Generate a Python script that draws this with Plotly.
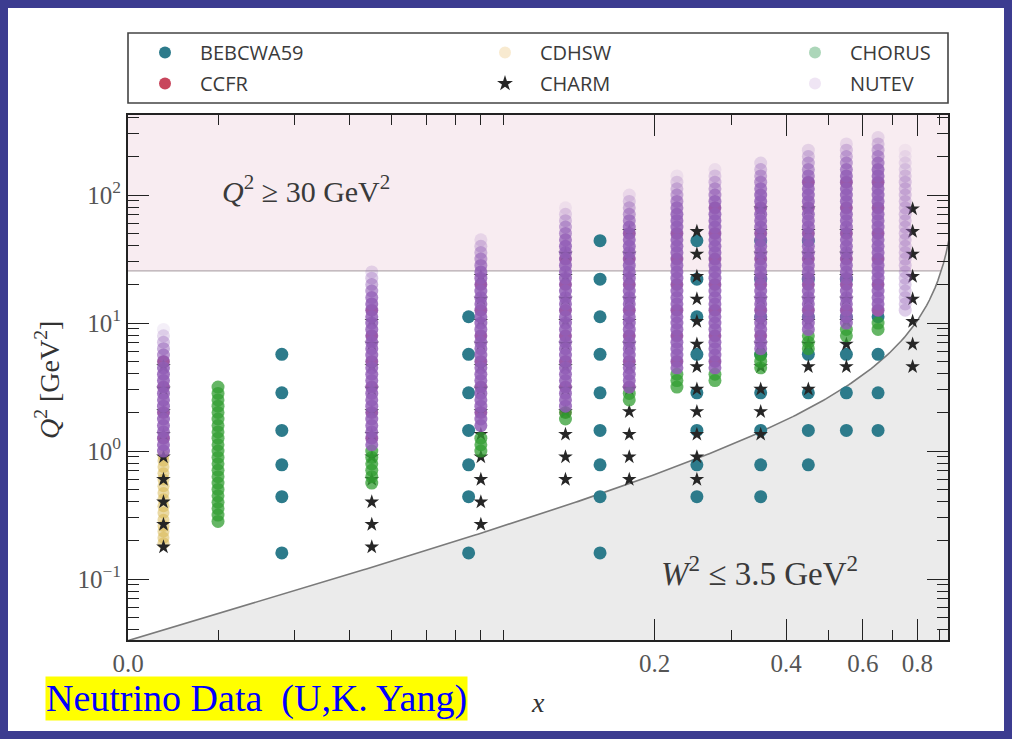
import numpy as np
import plotly.graph_objects as go

# ---------------------------------------------------------------------------
# Kinematic coverage of the neutrino DIS data sets (x, Q^2 in GeV^2)
# ---------------------------------------------------------------------------

# Q^2 levels populated by the dense data sets (CHORUS, NuTeV)
Q2_LEVELS = [0.178, 0.2, 0.224, 0.251, 0.282, 0.316, 0.355, 0.398, 0.447, 0.501,
             0.562, 0.631, 0.708, 0.794, 0.891, 1.0, 1.12, 1.26, 1.41, 1.58,
             1.78, 2.0, 2.24, 2.51, 2.82, 3.16, 3.55, 3.98, 4.47, 5.01,
             5.62, 6.31, 7.08, 7.94, 8.91, 10.0, 11.2, 12.6, 14.1, 15.8,
             17.8, 20.0, 22.4, 25.1, 28.2, 31.6, 35.5, 39.8, 44.7, 50.1,
             56.2, 63.1, 70.8, 79.4, 89.1, 100.0, 112.0, 126.0, 141.0, 158.0,
             178.0, 200.0, 224.0, 251.0, 282.0, 316.0]

BEBC_X = [0.028, 0.075, 0.15, 0.25, 0.35, 0.45, 0.55, 0.65]
BEBC_Q2 = [
    [0.16, 0.44, 0.78, 1.45, 2.85, 5.7],
    [0.16, 0.44, 0.78, 1.45, 2.85, 5.7, 11.2],
    [0.16, 0.44, 0.78, 1.45, 2.85, 5.7, 11.2, 22.0, 44.0],
    [0.44, 0.78, 1.45, 2.85, 5.7, 11.2, 22.0, 44.0],
    [0.44, 0.78, 1.45, 2.85, 5.7, 11.2, 22.0, 44.0],
    [0.78, 1.45, 2.85, 5.7, 11.2, 22.0, 44.0],
    [1.45, 2.85, 5.7, 11.2, 22.0],
    [1.45, 2.85, 5.7, 11.2],
]

CCFR_X = [0.015, 0.045, 0.08, 0.125, 0.175, 0.225, 0.275, 0.35, 0.45, 0.55, 0.65]
CCFR_Q2 = [
    [1.26, 2.0, 3.16, 5.01],
    [1.26, 2.0, 3.16, 5.01, 7.94, 12.6],
    [2.0, 3.16, 5.01, 7.94, 12.6, 20.0],
    [2.0, 3.16, 5.01, 7.94, 12.6, 20.0, 31.6],
    [3.16, 5.01, 7.94, 12.6, 20.0, 31.6, 50.1],
    [5.01, 7.94, 12.6, 20.0, 31.6, 50.1],
    [5.01, 7.94, 12.6, 20.0, 31.6, 50.1, 79.4],
    [7.94, 12.6, 20.0, 31.6, 50.1, 79.4],
    [12.6, 20.0, 31.6, 50.1, 79.4, 126.0],
    [12.6, 20.0, 31.6, 50.1, 79.4, 126.0],
    [12.6, 20.0, 31.6, 50.1, 79.4, 126.0],
]

CDHSW_X = [0.015]
CDHSW_Q2 = [
    [0.19, 0.21, 0.235, 0.26, 0.29, 0.33, 0.37, 0.42, 0.47, 0.53,
     0.6, 0.67, 0.75, 0.84, 0.92],
]

CHARM_X = [0.015, 0.045, 0.08, 0.125, 0.175, 0.25, 0.35, 0.45, 0.55, 0.78]
CHARM_Q2 = [
    [0.178, 0.267, 0.40, 0.60, 0.90, 1.35, 2.03, 3.04, 4.56],
    [0.178, 0.267, 0.40, 0.60, 0.90, 1.35, 2.03, 3.04, 4.56, 6.84, 10.3],
    [0.267, 0.40, 0.60, 0.90, 1.35, 2.03, 3.04, 4.56, 6.84, 10.3, 15.4, 23.1],
    [0.60, 0.90, 1.35, 2.03, 3.04, 4.56, 6.84, 10.3, 15.4, 23.1, 34.6],
    [0.60, 0.90, 1.35, 2.03, 3.04, 4.56, 6.84, 10.3, 15.4, 23.1, 34.6, 51.9],
    [0.60, 0.90, 1.35, 2.03, 3.04, 4.56, 6.84, 10.3, 15.4, 23.1, 34.6, 51.9],
    [1.35, 2.03, 3.04, 4.56, 6.84, 10.3, 15.4, 23.1, 34.6, 51.9, 77.9],
    [3.04, 4.56, 6.84, 10.3, 15.4, 23.1, 34.6, 51.9, 77.9],
    [4.56, 6.84, 10.3, 15.4, 23.1, 34.6, 51.9],
    [4.56, 6.84, 10.3, 15.4, 23.1, 34.6, 51.9, 77.9],
]

CHORUS_X = [0.02, 0.045, 0.08, 0.125, 0.175, 0.225, 0.275, 0.35, 0.45, 0.55, 0.65]
CHORUS_Q2_MIN = [0.28, 0.56, 1.0, 1.75, 2.4, 3.0, 3.5, 4.4, 6.3, 7.4, 8.5]
CHORUS_Q2_MAX = [3.3, 1.0, 1.4, 2.1, 3.0, 4.0, 4.3, 5.8, 8.0, 9.5, 10.5]

NUTEV_X = [0.015, 0.045, 0.08, 0.125, 0.175, 0.225, 0.275, 0.35, 0.45, 0.55, 0.65, 0.75]
NUTEV_Q2_MIN = [1.0, 1.1, 1.5, 2.2, 3.1, 4.2, 4.4, 6.2, 8.3, 10.0, 11.5, 12.2]
NUTEV_Q2_MAX = [9.0, 28.0, 48.0, 80.0, 105.0, 143.0, 162.0, 198.0, 245.0, 270.0, 305.0, 245.0]

# kinematic cuts
Q2_BAND_MIN = 25.6        # lower edge of the shaded high-Q^2 band
W2_CUT = 3.5              # GeV^2
PROTON_MASS2 = 0.88       # GeV^2

X_RANGE = (0.01244, 0.94)
Q2_RANGE = (0.0334, 422.0)

# ---------------------------------------------------------------------------
# Geometry helpers (pixel -> paper coordinates for decorations)
# ---------------------------------------------------------------------------
W, H = 1012, 739
ML, MR, MT, MB = 128, 64, 115, 99
PW, PH = W - ML - MR, H - MT - MB


def px(xp):
    return (xp - ML) / PW


def py(yp):
    return (H - MB - yp) / PH


def expand(xs, lists):
    xx, yy = [], []
    for x, qs in zip(xs, lists):
        xx += [x] * len(qs)
        yy += list(qs)
    return xx, yy


def from_levels(xs, lo, hi):
    cols = []
    for a, b in zip(lo, hi):
        cols.append([q for q in Q2_LEVELS if a <= q <= b])
    return expand(xs, cols), cols


SERIF = "Liberation Serif"
SANS = "Open Sans"

fig = go.Figure()

# shaded high-Q^2 band
fig.add_trace(go.Scatter(
    x=[X_RANGE[0] * 0.9, X_RANGE[1] * 1.05, X_RANGE[1] * 1.05, X_RANGE[0] * 0.9],
    y=[Q2_BAND_MIN, Q2_BAND_MIN, 5000, 5000],
    fill="toself", fillcolor="#f8ecf1", mode="lines",
    line=dict(color="#b4a9ae", width=1.2), hoverinfo="skip", showlegend=False))

# W^2 cut region
xc = np.geomspace(X_RANGE[0] * 0.95, X_RANGE[1] * 1.02, 300)
qc = (W2_CUT - PROTON_MASS2) * xc / (1 - xc)
fig.add_trace(go.Scatter(
    x=np.concatenate([xc, [xc[-1], xc[0]]]),
    y=np.concatenate([qc, [0.001, 0.001]]),
    fill="toself", fillcolor="#ebebeb", mode="lines",
    line=dict(color="rgba(0,0,0,0)", width=0), hoverinfo="skip", showlegend=False))
fig.add_trace(go.Scatter(x=xc, y=qc, mode="lines", line=dict(color="#7a7a7a", width=1.6),
                         hoverinfo="skip", showlegend=False))

# BEBC WA59
bx, by = expand(BEBC_X, BEBC_Q2)
fig.add_trace(go.Scatter(x=bx, y=by, mode="markers", showlegend=False,
                         marker=dict(size=13, color="#2d7b8b", line=dict(width=0))))

# CCFR
cx, cy = expand(CCFR_X, CCFR_Q2)
fig.add_trace(go.Scatter(x=cx, y=cy, mode="markers", showlegend=False,
                         marker=dict(size=12, color="#c8465c", line=dict(width=0))))

# CDHSW
dx, dy = expand(CDHSW_X, CDHSW_Q2)
fig.add_trace(go.Scatter(x=dx, y=dy, mode="markers", showlegend=False,
                         marker=dict(size=12, color="rgba(214,180,72,0.5)", line=dict(width=0))))

# CHARM
hx, hy = expand(CHARM_X, CHARM_Q2)
fig.add_trace(go.Scatter(x=hx, y=hy, mode="markers", showlegend=False,
                         marker=dict(size=11, symbol="star", color="#262626", line=dict(width=0))))

# CHORUS
(gx, gy), _ = from_levels(CHORUS_X, CHORUS_Q2_MIN, CHORUS_Q2_MAX)
fig.add_trace(go.Scatter(x=gx, y=gy, mode="markers", showlegend=False,
                         marker=dict(size=13, color="rgba(50,158,50,0.75)", line=dict(width=0))))

# NuTeV, fading towards the top of each x bin
(nx, ny), ncols = from_levels(NUTEV_X, NUTEV_Q2_MIN, NUTEV_Q2_MAX)
alphas = []
for x, top, col in zip(NUTEV_X, NUTEV_Q2_MAX, ncols):
    base = 0.85 if x < 0.7 else 0.3
    for q in col:
        d = np.log10(top) - np.log10(q)
        alphas.append(base * float(np.clip(0.1 + d / 0.32, 0.1, 1.0)))
fig.add_trace(go.Scatter(x=nx, y=ny, mode="markers", showlegend=False,
                         marker=dict(size=13, color="rgb(146,94,182)", opacity=alphas,
                                     line=dict(width=0))))

# legend entries: three columns of two rows
legend_items = [
    ("BEBCWA59", "legend", dict(symbol="circle", color="#2d7b8b")),
    ("CCFR", "legend", dict(symbol="circle", color="#c8465c")),
    ("CDHSW", "legend2", dict(symbol="circle", color="rgba(236,196,120,0.35)")),
    ("CHARM", "legend2", dict(symbol="star", color="#262626")),
    ("CHORUS", "legend3", dict(symbol="circle", color="rgba(70,165,100,0.45)")),
    ("NUTEV", "legend3", dict(symbol="circle", color="rgba(190,150,210,0.25)")),
]
for name, leg, mk in legend_items:
    fig.add_trace(go.Scatter(x=[None], y=[None], mode="markers", name=name, legend=leg,
                             legendgroup=name,
                             marker=dict(size=11, line=dict(width=0), **mk)))

# axes ticks
x_minor = [0.02, 0.03, 0.04, 0.05, 0.06, 0.07, 0.08, 0.09, 0.3, 0.5, 0.7, 0.9]
y_minor = [m * 10.0 ** e for e in range(-2, 3) for m in range(2, 10)
           if Q2_RANGE[0] < m * 10.0 ** e < Q2_RANGE[1]]

axis_common = dict(showline=True, linecolor="#222", linewidth=1.8, mirror="ticks",
                   ticks="inside", tickcolor="#222", tickwidth=1.4, ticklen=21,
                   showgrid=False, zeroline=False)

fig.update_xaxes(type="log", range=[np.log10(X_RANGE[0]), np.log10(X_RANGE[1])],
                 tickmode="array", tickvals=[0.012445, 0.2, 0.4, 0.6, 0.8],
                 ticktext=["0.0", "0.2", "0.4", "0.6", "0.8"],
                 tickfont=dict(family=SERIF, size=25, color="#555"),
                 minor=dict(tickmode="array", tickvals=x_minor, ticks="inside",
                            ticklen=10, tickwidth=1.4, tickcolor="#222", showgrid=False),
                 **axis_common)
fig.update_yaxes(type="log", range=[np.log10(Q2_RANGE[0]), np.log10(Q2_RANGE[1])],
                 tickmode="array", tickvals=[0.1, 1, 10, 100],
                 ticktext=["10<sup>\u22121</sup>", "10<sup>0</sup>", "10<sup>1</sup>", "10<sup>2</sup>"],
                 tickfont=dict(family=SERIF, size=25, color="#555"),
                 minor=dict(tickmode="array", tickvals=y_minor, ticks="inside",
                            ticklen=11, tickwidth=1.4, tickcolor="#222", showgrid=False),
                 **axis_common)

annotations = [
    dict(x=px(306), y=py(189), text="<i>Q</i><sup>2</sup> \u2265 30 GeV<sup>2</sup>",
         font=dict(family=SERIF, size=30, color="#3a3a3a")),
    dict(x=px(759), y=py(571), text="<i>W</i><sup>2</sup> \u2264 3.5 GeV<sup>2</sup>",
         font=dict(family=SERIF, size=33, color="#3a3a3a")),
    dict(x=px(47), y=py(380), text="<i>Q</i><sup>2</sup> [GeV<sup>2</sup>]", textangle=-90,
         font=dict(family=SERIF, size=28, color="#333")),
    dict(x=px(538), y=py(702), text="<i>x</i>",
         font=dict(family=SERIF, size=28, color="#333")),
    dict(x=px(45), y=py(698), xanchor="left",
         text="Neutrino Data&nbsp; (U,K. Yang)", bgcolor="#ffff00", borderpad=0,
         font=dict(family=SERIF, size=38, color="#0000ff")),
]
for a in annotations:
    a.setdefault("xref", "paper")
    a.setdefault("yref", "paper")
    a.setdefault("xanchor", "center")
    a.setdefault("yanchor", "middle")
    a.setdefault("showarrow", False)

shapes = [
    # legend frame
    dict(type="rect", xref="paper", yref="paper", x0=px(128), x1=px(948),
         y0=py(103), y1=py(33), line=dict(color="#444", width=1.6)),
    # slide frame
    dict(type="rect", xref="paper", yref="paper", x0=px(4), x1=px(1008),
         y0=py(735), y1=py(4), line=dict(color="#3c3c90", width=8)),
]

legend_style = dict(orientation="v", xanchor="left", yanchor="top", bgcolor="rgba(0,0,0,0)",
                    font=dict(family=SANS, size=20, color="#3a3a3a"), itemsizing="constant",
                    itemwidth=60, tracegroupgap=2, traceorder="grouped")

fig.update_layout(
    width=W, height=H,
    margin=dict(l=ML, r=MR, t=MT, b=MB),
    paper_bgcolor="white", plot_bgcolor="white",
    annotations=annotations, shapes=shapes,
    legend=dict(x=px(130), y=py(33), **legend_style),
    legend2=dict(x=px(470), y=py(33), **legend_style),
    legend3=dict(x=px(780), y=py(33), **legend_style),
)

fig.write_html("out.html")
